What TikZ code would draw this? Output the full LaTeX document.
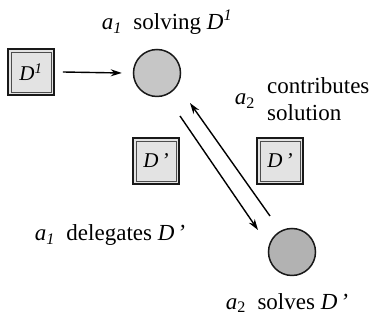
\documentclass[tikz,border=0pt]{standalone}
\usepackage{fontspec}
\setmainfont{Liberation Serif}
\usetikzlibrary{arrows.meta}
\tikzset{
  lbl/.style={font=\fontsize{23}{27}\selectfont, inner sep=0pt, align=left},
  dombox/.style={draw=black!90, line width=1.7pt, fill=gray!22, minimum width=46pt, minimum height=46pt, inner sep=0pt,
    font=\fontsize{21}{24}\selectfont,
    path picture={\draw[line width=0.5pt, black!70] ([shift={(3pt,3pt)}]path picture bounding box.south west) rectangle ([shift={(-3pt,-3pt)}]path picture bounding box.north east);}},
  agent/.style={circle, draw=black!90, line width=1.5pt, minimum size=47pt, inner sep=0pt},
  arr/.style={line width=1.4pt, -{Stealth[length=11pt,width=7pt]}}
}
\newcommand{\Dsup}[1]{\textit{D}\textsuperscript{\textit{#1}}}
\newcommand{\Dpr}{\textit{D}\kern3pt\textit{\char"2019}}
\begin{document}
\begin{tikzpicture}[x=1pt,y=1pt]
\useasboundingbox (0,0) rectangle (376,321);
\node[lbl] (t1) at (167,299) {\textit{a}\textsubscript{\textit{1}}\ \ solving \Dsup{1}};
\node[dombox] (d1) at (31,249) {\Dsup{1}};
\node[agent, fill=gray!45] (c1) at (157,248) {};
\node[lbl] (a2c) at (245,220) {\textit{a}\textsubscript{2}};
\node[lbl, anchor=west] (contrib) at (267,222) {contributes\\solution};
\node[dombox] (dp1) at (156,160) {\Dpr};
\node[dombox] (dp2) at (280,160) {\Dpr};
\node[lbl] (deleg) at (110,86) {\textit{a}\textsubscript{\textit{1}}\ \ delegates \Dpr};
\node[agent, fill=gray!60] (c2) at (292,69) {};
\node[lbl] (solves) at (287,18) {\textit{a}\textsubscript{2}\ \ solves \Dpr};
\coordinate (dstart) at (180,205);
\coordinate (dend) at (258,91);
\coordinate (ustart) at (270,105);
\coordinate (uend) at (190,218);
\draw[arr] (d1.east) ++(8pt,0) coordinate (d1r) -- ([xshift=-11pt]c1.west);
\draw[arr] (dstart) -- (dend);
\draw[arr] (ustart) -- (uend);
\end{tikzpicture}
\end{document}
